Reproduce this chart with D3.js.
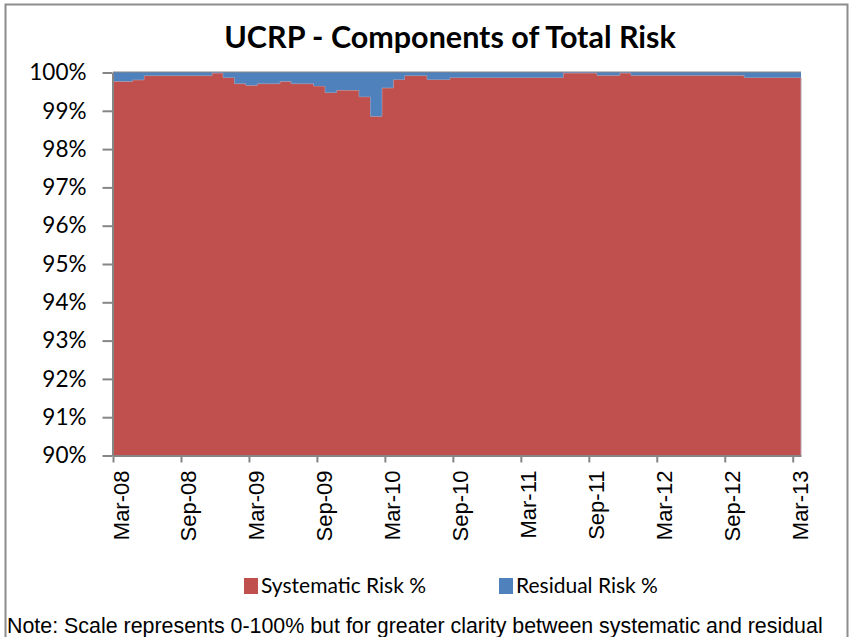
<!DOCTYPE html>
<html>
<head>
<meta charset="utf-8">
<script src="https://cdn.jsdelivr.net/npm/d3@7"></script>
<style>
	body { margin: 0; background: #fff; }
	.axis path, .axis line { stroke: #868686; stroke-width: 2; }
	.axis text { fill: #000; }
</style>
</head>
<body>
<svg id="chart" width="852" height="637"></svg>
<script>
const categories = [
	'Mar-08', 'Apr-08', 'May-08', 'Jun-08', 'Jul-08', 'Aug-08', 'Sep-08', 'Oct-08', 'Nov-08', 'Dec-08', 'Jan-09', 'Feb-09',
	'Mar-09', 'Apr-09', 'May-09', 'Jun-09', 'Jul-09', 'Aug-09', 'Sep-09', 'Oct-09', 'Nov-09', 'Dec-09', 'Jan-10', 'Feb-10',
	'Mar-10', 'Apr-10', 'May-10', 'Jun-10', 'Jul-10', 'Aug-10', 'Sep-10', 'Oct-10', 'Nov-10', 'Dec-10', 'Jan-11', 'Feb-11',
	'Mar-11', 'Apr-11', 'May-11', 'Jun-11', 'Jul-11', 'Aug-11', 'Sep-11', 'Oct-11', 'Nov-11', 'Dec-11', 'Jan-12', 'Feb-12',
	'Mar-12', 'Apr-12', 'May-12', 'Jun-12', 'Jul-12', 'Aug-12', 'Sep-12', 'Oct-12', 'Nov-12', 'Dec-12', 'Jan-13', 'Feb-13',
	'Mar-13'
];

const systematic = [
	99.77, 99.77, 99.81, 99.92, 99.92, 99.92, 99.92, 99.92, 99.92, 99.99, 99.87, 99.71,
	99.67, 99.71, 99.71, 99.77, 99.71, 99.71, 99.65, 99.48, 99.54, 99.54, 99.37, 98.86,
	99.60, 99.82, 99.92, 99.92, 99.82, 99.82, 99.87, 99.87, 99.87, 99.87, 99.87, 99.87,
	99.87, 99.87, 99.87, 99.87, 99.99, 99.99, 99.99, 99.93, 99.93, 99.99, 99.93, 99.93,
	99.93, 99.93, 99.93, 99.93, 99.93, 99.93, 99.93, 99.93, 99.87, 99.87, 99.87, 99.87,
	99.87
];

const residual = [
	0.23, 0.23, 0.19, 0.08, 0.08, 0.08, 0.08, 0.08, 0.08, 0.01, 0.13, 0.29,
	0.33, 0.29, 0.29, 0.23, 0.29, 0.29, 0.35, 0.52, 0.46, 0.46, 0.63, 1.14,
	0.40, 0.18, 0.08, 0.08, 0.18, 0.18, 0.13, 0.13, 0.13, 0.13, 0.13, 0.13,
	0.13, 0.13, 0.13, 0.13, 0.01, 0.01, 0.01, 0.07, 0.07, 0.01, 0.07, 0.07,
	0.07, 0.07, 0.07, 0.07, 0.07, 0.07, 0.07, 0.07, 0.13, 0.13, 0.13, 0.13,
	0.13
];

const seriesNames = [ 'Systematic Risk %', 'Residual Risk %' ];
const yTicks = [ 90, 91, 92, 93, 94, 95, 96, 97, 98, 99, 100 ];
const xTickEvery = 6;

const colors = [ '#c0504d', '#4f81bd' ];
const plot = { left: 113, right: 801, top: 72.5, bottom: 455.5 };
const stepShift = 0.27; // each monthly step starts a little before its month

const svg = d3.select('svg#chart');

// outer chart frame
svg.append('rect')
	.attr('x', 5.5).attr('y', 4.5)
	.attr('width', 842).attr('height', 700)
	.attr('fill', 'none')
	.attr('stroke', '#8c8c8c')
	.attr('stroke-width', 2);

svg.append('text')
	.attr('x', 450).attr('y', 48)
	.attr('text-anchor', 'middle')
	.style('font', 'bold 30.5px Lato')
	.text('UCRP - Components of Total Risk');

const x = d3.scaleLinear([ 0, categories.length - stepShift ], [ plot.left, plot.right ]).clamp(true);
const y = d3.scaleLinear([ d3.min(yTicks), d3.max(yTicks) ], [ plot.bottom, plot.top ]).clamp(true);

const table = categories.map((month, i) => ({ month, systematic: systematic[i], residual: residual[i] }));
const stacked = d3.stack().keys([ 'systematic', 'residual' ])(table);

const area = d3.area()
	.x(d => x(d.pos))
	.y0(d => y(d.lo))
	.y1(d => y(d.hi))
	.curve(d3.curveStepAfter);

// gridlines sit under the areas, only the top one shows
svg.append('g')
	.selectAll('line')
	.data(yTicks)
	.join('line')
	.attr('x1', plot.left).attr('x2', plot.right)
	.attr('y1', d => y(d)).attr('y2', d => y(d))
	.attr('stroke', '#868686')
	.attr('stroke-width', 2);

stacked.forEach((s, k) => {
	const pts = s.map((d, i) => ({ pos: i - stepShift, lo: d[0], hi: d[1] }));
	pts.push({ ...pts[pts.length - 1], pos: s.length - stepShift });
	svg.append('path')
		.datum(pts)
		.attr('d', area)
		.attr('fill', colors[k])
		.attr('stroke', k === 0 ? '#b9a3b3' : 'none')
		.attr('stroke-width', 1);
});

const yAxis = svg.append('g')
	.attr('class', 'axis')
	.attr('transform', `translate(${plot.left - 0.5},0)`)
	.call(d3.axisLeft(y).tickValues(yTicks).tickFormat(d => d + '%').tickSize(10).tickSizeOuter(0).tickPadding(16));
yAxis.selectAll('text').style('font', '22.5px Lato');

const xAxis = svg.append('g')
	.attr('class', 'axis')
	.attr('transform', `translate(0,${plot.bottom})`)
	.call(d3.axisBottom(x)
		.tickValues(d3.range(0, categories.length, xTickEvery))
		.tickFormat(i => categories[i])
		.tickSize(7)
		.tickSizeOuter(0));
xAxis.selectAll('text')
	.attr('transform', 'rotate(-90)')
	.attr('text-anchor', 'end')
	.attr('x', -15)
	.attr('y', 0)
	.attr('dy', 15)
	.style('font', '22px "Liberation Sans"');

const legendX = [ 244, 499 ];
const legend = svg.append('g')
	.selectAll('g')
	.data(seriesNames)
	.join('g')
	.attr('transform', (d, i) => `translate(${legendX[i]},578)`);
legend.append('rect')
	.attr('width', 14).attr('height', 16)
	.attr('fill', (d, i) => colors[i]);
legend.append('text')
	.attr('x', 17).attr('y', 15)
	.style('font', '21px Lato')
	.text(d => d);

svg.append('text')
	.attr('x', 7).attr('y', 633)
	.style('font', '21.4px "Liberation Sans"')
	.text('Note: Scale represents 0-100% but for greater clarity between systematic and residual');
</script>
</body>
</html>
